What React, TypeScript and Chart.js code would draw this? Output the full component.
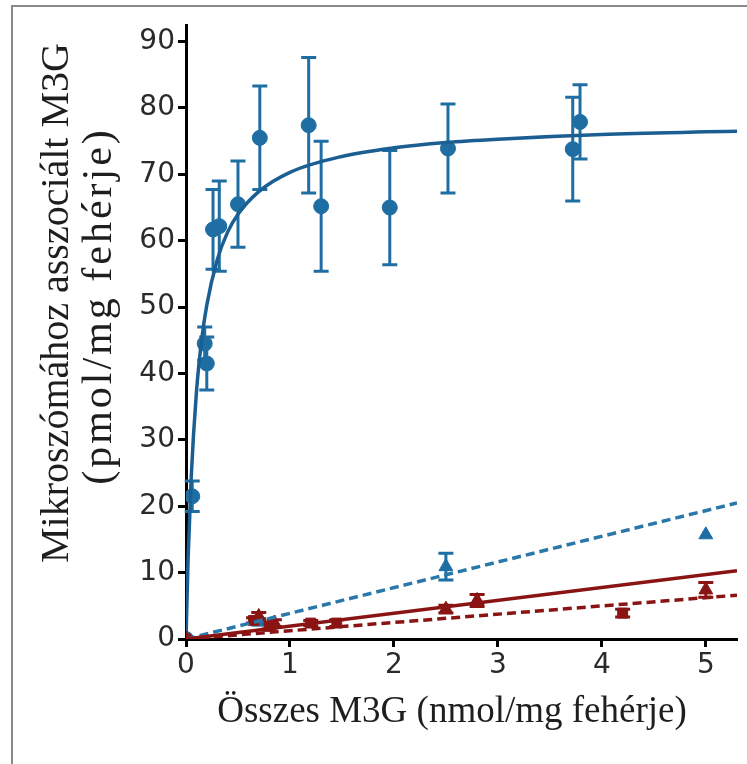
import React, { useEffect, useRef } from "react";
import { Chart, registerables } from "chart.js";

Chart.register(...registerables);

// ---- Data ----
const xTickValues = [0, 1, 2, 3, 4, 5];
const yTickValues = [0, 10, 20, 30, 40, 50, 60, 70, 80, 90];

// Fitted saturation curve (blue, solid)
const curveX = [0, 0.02, 0.05, 0.1, 0.15, 0.2, 0.3, 0.4, 0.5, 0.7, 1.0, 1.5, 2.0, 2.5, 3.0, 4.0, 5.0, 5.3];
const curveY = [0, 12.0, 24.3, 37.1, 45.0, 50.3, 57.1, 61.3, 64.0, 67.4, 70.3, 72.7, 74.0, 74.8, 75.3, 76.0, 76.4, 76.5];

// Blue circles (total binding) with SEM
const blueCircleX = [0, 0.06, 0.18, 0.2, 0.26, 0.32, 0.5, 0.71, 1.18, 1.3, 1.96, 2.52, 3.72, 3.79];
const blueCircleY = [0, 21.5, 44.5, 41.5, 61.7, 62.2, 65.5, 75.5, 77.4, 65.2, 65.0, 73.9, 73.8, 77.9];
const blueCircleErr = [0, 2.3, 2.5, 4.0, 6.0, 6.8, 6.5, 7.8, 10.2, 9.8, 8.6, 6.7, 7.8, 5.6];

// Blue triangles with dashed linear fit
const blueTriX = [0, 0.7, 2.5, 5.0];
const blueTriY = [0, 2.6, 10.9, 15.7];
const blueTriErr = [0, 0.5, 2.0, 0];
const blueFitX = [0, 5.3];
const blueFitY = [0, 20.5];

// Dark red triangles with solid linear fit
const redTriX = [0, 0.7, 0.85, 2.5, 2.8, 5.0];
const redTriY = [0, 3.4, 2.4, 4.5, 5.8, 7.4];
const redTriErr = [0, 0.6, 0.5, 0.6, 0.9, 1.1];
const redSolidFitX = [0, 5.3];
const redSolidFitY = [0, 10.3];

// Dark red squares with dashed linear fit
const redSqX = [0, 0.65, 0.8, 1.2, 1.45, 4.2];
const redSqY = [0, 2.8, 1.9, 2.4, 2.4, 3.9];
const redSqErr = [0, 0.4, 0.4, 0.4, 0.5, 0.6];
const redDashFitX = [0, 5.3];
const redDashFitY = [0, 6.6];

const xTitle = "Összes M3G (nmol/mg fehérje)";
const yTitleLines = ["Mikroszómához asszociált M3G", "(pmol/mg fehérje)"];

const BLUE_CURVE = "#1b5f92";
const BLUE = "#1f6ea3";
const BLUE_DASH = "#2a78aa";
const RED = "#8a1414";

const pts = (xs: number[], ys: number[]) => xs.map((x, i) => ({ x, y: ys[i] }));

const errorGroups = [
  { xs: blueCircleX, ys: blueCircleY, es: blueCircleErr, color: BLUE },
  { xs: blueTriX, ys: blueTriY, es: blueTriErr, color: BLUE },
  { xs: redTriX, ys: redTriY, es: redTriErr, color: RED },
  { xs: redSqX, ys: redSqY, es: redSqErr, color: RED },
];

const errorBarPlugin = {
  id: "errorBars",
  beforeDatasetsDraw(chart: any) {
    const { ctx, scales } = chart;
    const xs = scales.x;
    const ys = scales.y;
    ctx.save();
    ctx.lineWidth = 3;
    errorGroups.forEach((g) => {
      ctx.strokeStyle = g.color;
      g.xs.forEach((xv, i) => {
        const e = g.es[i];
        if (!e) return;
        const px = xs.getPixelForValue(xv);
        const top = ys.getPixelForValue(g.ys[i] + e);
        const bot = ys.getPixelForValue(g.ys[i] - e);
        ctx.beginPath();
        ctx.moveTo(px, top);
        ctx.lineTo(px, bot);
        ctx.moveTo(px - 7.5, top);
        ctx.lineTo(px + 7.5, top);
        ctx.moveTo(px - 7.5, bot);
        ctx.lineTo(px + 7.5, bot);
        ctx.stroke();
      });
    });
    ctx.restore();
  },
};

const titlesPlugin = {
  id: "titles",
  afterDraw(chart: any) {
    const { ctx } = chart;
    ctx.save();
    ctx.fillStyle = "#1e1e1e";
    ctx.textAlign = "center";
    ctx.textBaseline = "middle";
    ctx.font = "37px 'Liberation Serif'";
    ctx.fillText(xTitle, 452, 712);
    ctx.translate(57, 303);
    ctx.rotate(-Math.PI / 2);
    ctx.font = "40px 'Liberation Serif'";
    ctx.fillText(yTitleLines[0], 0, 0);
    ctx.font = "42px 'Liberation Serif'";
    try {
      (ctx as any).letterSpacing = "3px";
    } catch (e) {}
    ctx.fillText(yTitleLines[1], -3, 43);
    ctx.restore();
  },
};

export default function App() {
  const ref = useRef<HTMLCanvasElement | null>(null);
  useEffect(() => {
    if (!ref.current) return;
    const chart = new Chart(ref.current, {
      type: "scatter",
      data: {
        datasets: [
          {
            type: "line",
            data: pts(redDashFitX, redDashFitY),
            borderColor: RED,
            borderWidth: 3.5,
            borderDash: [9, 5],
            pointRadius: 0,
          },
          {
            type: "line",
            data: pts(redSolidFitX, redSolidFitY),
            borderColor: RED,
            borderWidth: 3.5,
            pointRadius: 0,
          },
          {
            type: "line",
            data: pts(blueFitX, blueFitY),
            borderColor: BLUE_DASH,
            borderWidth: 3.5,
            borderDash: [9, 5],
            pointRadius: 0,
          },
          {
            data: pts(redSqX, redSqY),
            pointStyle: "rect",
            pointRadius: 7,
            backgroundColor: RED,
            borderColor: RED,
            showLine: false,
          },
          {
            data: pts(redTriX, redTriY),
            pointStyle: "triangle",
            pointRadius: 8,
            backgroundColor: RED,
            borderColor: RED,
            showLine: false,
          },
          {
            data: pts(blueTriX, blueTriY),
            pointStyle: "triangle",
            pointRadius: 8,
            backgroundColor: BLUE,
            borderColor: BLUE,
            showLine: false,
          },
          {
            type: "line",
            data: pts(curveX, curveY),
            borderColor: BLUE_CURVE,
            borderWidth: 3.5,
            pointRadius: 0,
            cubicInterpolationMode: "monotone",
          },
          {
            data: pts(blueCircleX, blueCircleY),
            pointStyle: "circle",
            pointRadius: 7.5,
            backgroundColor: BLUE,
            borderColor: BLUE,
            showLine: false,
          },
        ] as any,
      },
      options: {
        responsive: false,
        animation: false,
        devicePixelRatio: 1,
        layout: { padding: { top: 25, right: 10, left: 0, bottom: 0 } },
        plugins: { legend: { display: false }, tooltip: { enabled: false } },
        scales: {
          x: {
            type: "linear",
            min: 0,
            max: 5.3,
            afterBuildTicks: (s: any) => {
              s.ticks = xTickValues.map((v) => ({ value: v }));
            },
            afterFit: (s: any) => {
              s.height = 764 - 639;
            },
            border: { color: "#000", width: 3 },
            grid: { drawOnChartArea: false, tickLength: 8, tickWidth: 3, tickColor: "#000" },
            ticks: {
              font: { family: "'DejaVu Sans'", size: 28 },
              color: "#2a2a2a",
              padding: 2,
              maxRotation: 0,
              autoSkip: false,
            },
          },
          y: {
            type: "linear",
            min: 0,
            max: 92.5,
            afterBuildTicks: (s: any) => {
              s.ticks = yTickValues.map((v) => ({ value: v }));
            },
            afterFit: (s: any) => {
              s.width = 186;
            },
            border: { color: "#000", width: 3 },
            grid: { drawOnChartArea: false, tickLength: 8, tickWidth: 3, tickColor: "#000" },
            ticks: {
              font: { family: "'DejaVu Sans'", size: 28 },
              color: "#2a2a2a",
              padding: 3,
              autoSkip: false,
            },
          },
        },
      },
      plugins: [errorBarPlugin, titlesPlugin],
    });
    return () => chart.destroy();
  }, []);

  return (
    <div>
      <div
        style={{
          position: "fixed",
          left: 11,
          top: 5,
          width: 780,
          height: 800,
          borderLeft: "2px solid #8a8a8a",
          borderTop: "2px solid #8a8a8a",
          background: "#fff",
        }}
      />
      <canvas
        ref={ref}
        width={747}
        height={764}
        style={{ position: "fixed", left: 0, top: 0, width: 747, height: 764 }}
      />
    </div>
  );
}
